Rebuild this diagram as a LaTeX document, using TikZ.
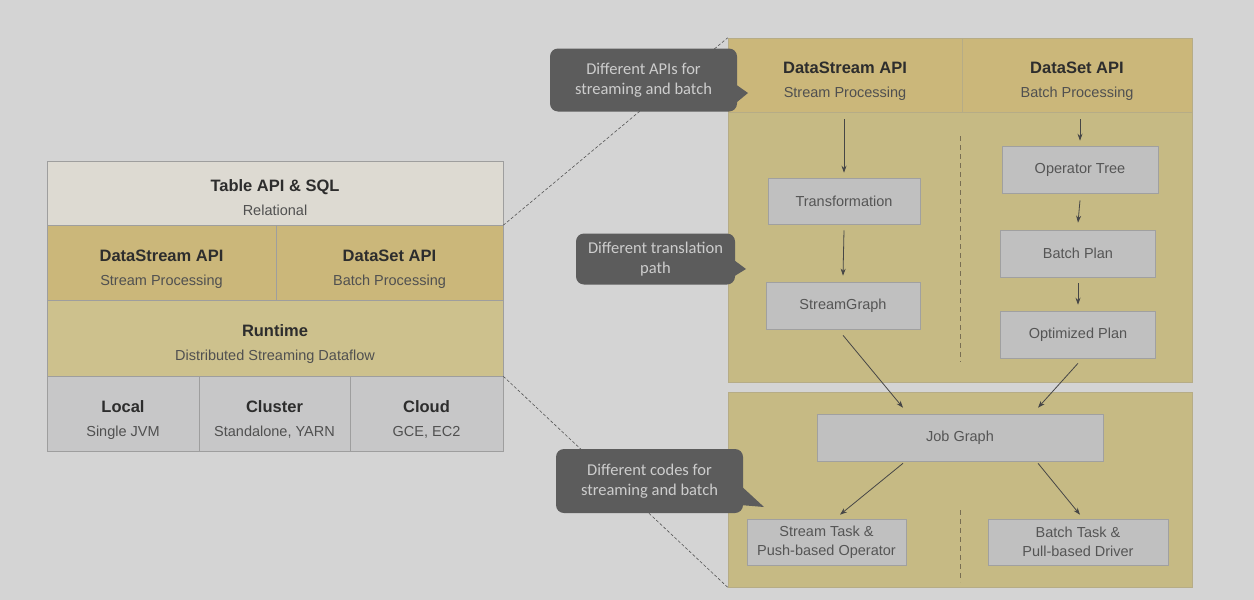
\documentclass[tikz,border=0pt]{standalone}
\usepackage{fontspec}
\setmainfont{Liberation Sans}
\newfontfamily\callfont{Carlito}
\usetikzlibrary{arrows.meta, calc}

\definecolor{pagebg}{RGB}{212,212,212}
\definecolor{tablefill}{RGB}{221,218,210}
\definecolor{apifill}{RGB}{203,183,122}
\definecolor{runfill}{RGB}{205,193,141}
\definecolor{depfill}{RGB}{199,199,200}
\definecolor{panelfill}{RGB}{198,186,132}
\definecolor{panelline}{RGB}{182,172,134}
\definecolor{boxfill}{RGB}{192,192,192}
\definecolor{boxline}{RGB}{160,160,160}
\definecolor{layerline}{RGB}{158,158,158}
\definecolor{headtext}{RGB}{45,45,45}
\definecolor{subtext}{RGB}{80,80,80}
\definecolor{boxtext}{RGB}{85,85,85}
\definecolor{notefill}{RGB}{92,92,92}
\definecolor{notetext}{RGB}{205,205,205}
\definecolor{flowline}{RGB}{70,70,70}
\definecolor{zoomc}{RGB}{85,85,85}
\definecolor{divc}{RGB}{120,110,82}

\newcommand\lyrhead[1]{{\color{headtext}\fontsize{16.5}{24}\selectfont\bfseries #1}}

\begin{document}
\begin{tikzpicture}[x=1pt,y=-1pt,every node/.style={inner sep=0pt},
  layer/.style={draw=layerline,line width=.5pt,align=center,text=subtext,font=\fontsize{14.5}{24}\selectfont,text height=48pt,text depth=3pt},
  box/.style={draw=boxline,fill=boxfill,line width=.6pt,minimum height=47pt,text=boxtext,align=center,font=\fontsize{14.5}{19}\selectfont},
  panel/.style={draw=panelline,fill=panelfill,line width=.6pt},
  note/.style={fill=notefill,rounded corners=8pt,align=center,text=notetext,font=\callfont\fontsize{16.5}{20}\selectfont},
  flow/.style={draw=flowline,line width=.8pt,-{Stealth[length=7pt,width=5pt]}},
  zoomline/.style={draw=zoomc,line width=.6pt,dash pattern=on 3pt off 2pt},
  divider/.style={draw=divc,line width=.8pt,dash pattern=on 5pt off 4pt}]
  \fill[pagebg] (0,0) rectangle (1254,600);
  \useasboundingbox (0,0) rectangle (1254,600);

  % left stack
  \node[layer,fill=tablefill,minimum width=456pt,minimum height=64pt] (table) at (275,193) {\lyrhead{Table API \& SQL}\\Relational};
  \node[layer,fill=apifill,minimum width=229pt,minimum height=75pt] (dstream) at (161.5,262.5) {\lyrhead{DataStream API}\\Stream Processing};
  \node[layer,fill=apifill,minimum width=227pt,minimum height=75pt] (dset) at (389.5,262.5) {\lyrhead{DataSet API}\\Batch Processing};
  \node[layer,fill=runfill,minimum width=456pt,minimum height=76pt] (runtime) at (275,338) {\lyrhead{Runtime}\\Distributed Streaming Dataflow};
  \node[layer,fill=depfill,minimum width=152pt,minimum height=75pt] (local) at (123,413.5) {\lyrhead{Local}\\Single JVM};
  \node[layer,fill=depfill,minimum width=151pt,minimum height=75pt] (cluster) at (274.5,413.5) {\lyrhead{Cluster}\\Standalone, YARN};
  \node[layer,fill=depfill,minimum width=153pt,minimum height=75pt] (cloud) at (426.5,413.5) {\lyrhead{Cloud}\\GCE, EC2};

  % right side: translation
  \node[panel,minimum width=464pt,minimum height=270pt] (upper) at (960,247) {};
  \node[layer,draw=panelline,fill=apifill,minimum width=234pt,minimum height=74pt] (rds) at (845,75) {\lyrhead{DataStream API}\\Stream Processing};
  \node[layer,draw=panelline,fill=apifill,minimum width=230pt,minimum height=74pt] (rdset) at (1077,75) {\lyrhead{DataSet API}\\Batch Processing};
  \draw[divider] (960,136) -- (960,362);
  \node[box,minimum width=152pt,minimum height=46pt] (trans) at (844,201) {Transformation};
  \node[box,minimum width=154pt] (sgraph) at (843,305.5) {StreamGraph};
  \node[box,minimum width=156pt] (optree) at (1080,169.5) {Operator Tree};
  \node[box,minimum width=155pt] (bplan) at (1078,253.5) {Batch Plan};
  \node[box,minimum width=155pt] (oplan) at (1078,334.5) {Optimized Plan};

  % right side: runtime
  \node[panel,minimum width=464pt,minimum height=195pt] (lower) at (960,489.5) {};
  \draw[divider] (960,510) -- (960,582);
  \node[box,minimum width=286pt] (jobg) at (960,437.5) {Job Graph};
  \node[box,minimum width=159pt,minimum height=46pt] (stask) at (826.5,542) {Stream Task \&\\Push-based Operator};
  \node[box,minimum width=180pt,minimum height=46pt] (btask) at (1078,542) {Batch Task \&\\Pull-based Driver};

  \draw[flow] ([xshift=-1pt,yshift=-7pt]rds.south) -- ([yshift=5pt]trans.north);
  \draw[flow] ([yshift=-6pt]trans.south) -- ([yshift=6pt]sgraph.north);
  \draw[flow] ([xshift=3pt,yshift=-7pt]rdset.south) -- ([yshift=5pt]optree.north);
  \draw[flow] ([yshift=-7pt]optree.south) -- ([yshift=7pt]bplan.north);
  \draw[flow] ([yshift=-6pt]bplan.south) -- ([yshift=6pt]oplan.north);
  \draw[flow] ([yshift=-6pt]sgraph.south) -- ([xshift=-57pt,yshift=6pt]jobg.north);
  \draw[flow] ([yshift=-5pt]oplan.south) -- ([xshift=78pt,yshift=6pt]jobg.north);
  \draw[flow] ([xshift=-57pt,yshift=-2pt]jobg.south) -- ([xshift=13.5pt,yshift=4pt]stask.north);
  \draw[flow] ([xshift=78pt,yshift=-2pt]jobg.south) -- ([xshift=2pt,yshift=4pt]btask.north);

  % zoom lines
  \draw[zoomline] (table.south east) -- (rds.north west);
  \draw[zoomline] (runtime.south east) -- (lower.south west);

  % callouts
  \node[note,minimum width=187pt,minimum height=63pt] (apinote) at (643.5,80) {Different APIs for\\streaming and batch};
  \coordinate (apitip) at (748,93);
  \fill[notefill] ($(apinote.east)+(-2,4)$) -- (apitip) -- ($(apinote.east)+(-2,23.5)$) -- cycle;
  \node[note,minimum width=159pt,minimum height=51pt] (pathnote) at (655.5,259) {Different translation\\path};
  \coordinate (pathtip) at (746,269);
  \fill[notefill] ($(pathnote.east)+(-2,0.5)$) -- (pathtip) -- ($(pathnote.east)+(-3,18.5)$) -- cycle;
  \node[note,minimum width=187pt,minimum height=64pt] (codenote) at (649.5,481) {Different codes for\\streaming and batch};
  \coordinate (codetip) at (764,507);
  \fill[notefill] ($(codenote.east)+(-2,5)$) -- (codetip) -- ($(codenote.east)+(-3,24)$) -- cycle;
\end{tikzpicture}
\end{document}
